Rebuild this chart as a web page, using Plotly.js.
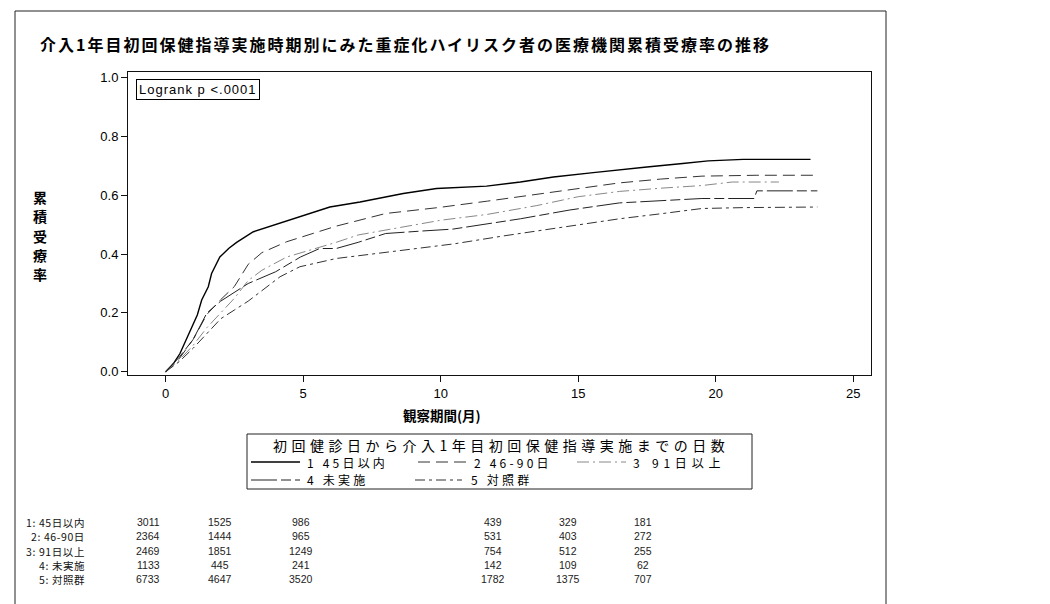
<!DOCTYPE html>
<html>
<head>
<meta charset="utf-8">
<script src="https://cdn.plot.ly/plotly-3.0.1.min.js"></script>
<style>html,body{margin:0;padding:0;background:#fff;}#chart{width:1050px;height:604px;}</style>
</head>
<body>
<div id="chart"></div>
<script>
// ---- data ----
const groupNames = ["1 45日以内", "2 46-90日", "3 91日以上", "4 未実施", "5 対照群"];
const tableLabels = ["1: 45日以内", "2: 46-90日", "3: 91日以上", "4: 未実施", "5: 対照群"];
const yTitleChars = ["累", "積", "受", "療", "率"];

const t1 = [0, 0.3, 0.52, 0.88, 1.15, 1.31, 1.55, 1.67, 1.97, 2.3, 2.58, 3.19, 3.91, 4.88, 5.97, 7.07, 8.64, 9.85, 11.67, 12.9, 14.1, 15.55, 16.5, 17.5, 18.8, 19.73, 21.0, 23.45];
const v1 = [0, 0.03, 0.062, 0.136, 0.193, 0.244, 0.289, 0.334, 0.39, 0.42, 0.44, 0.476, 0.498, 0.527, 0.56, 0.577, 0.606, 0.623, 0.631, 0.645, 0.662, 0.677, 0.685, 0.696, 0.708, 0.717, 0.722, 0.722];

const t2 = [0, 0.5, 1.0, 1.5, 2.0, 2.5, 3.0, 3.5, 4.4, 5.5, 6.2, 8.0, 9.9, 11.7, 13.5, 15.3, 16.5, 18.0, 19.5, 21.5, 23.7];
const v2 = [0, 0.045, 0.11, 0.195, 0.245, 0.29, 0.365, 0.405, 0.442, 0.475, 0.495, 0.538, 0.558, 0.58, 0.603, 0.628, 0.642, 0.655, 0.665, 0.668, 0.668];

const t3 = [0, 0.5, 1, 1.5, 2, 2.5, 3, 3.5, 4.4, 5.25, 6.2, 7, 8.5, 10, 11.7, 13.5, 15, 16.5, 18, 19.5, 20.6, 22.3];
const v3 = [0, 0.04, 0.09, 0.15, 0.2, 0.25, 0.31, 0.345, 0.39, 0.413, 0.44, 0.465, 0.49, 0.515, 0.535, 0.565, 0.595, 0.613, 0.624, 0.633, 0.645, 0.645];

const t4 = [0, 0.5, 1, 1.5, 2, 2.5, 3, 4, 4.9, 5.6, 6.2, 7, 8, 9.25, 10.45, 12.9, 14.7, 16.5, 18, 19.5, 21.4, 21.5, 23.7];
const v4 = [0, 0.05, 0.11, 0.2, 0.24, 0.27, 0.3, 0.34, 0.39, 0.419, 0.419, 0.44, 0.47, 0.478, 0.485, 0.52, 0.55, 0.574, 0.582, 0.589, 0.589, 0.615, 0.615];

const t5 = [0, 0.5, 1, 1.5, 2, 2.5, 3, 4.16, 4.88, 6.2, 7.5, 9.25, 10.5, 12.3, 14.5, 16.5, 18, 19.5, 21, 23.7];
const v5 = [0, 0.035, 0.08, 0.13, 0.18, 0.21, 0.24, 0.323, 0.357, 0.385, 0.40, 0.419, 0.435, 0.462, 0.492, 0.52, 0.537, 0.555, 0.558, 0.56];

const atRisk1 = [3011, 1525, 986, 439, 329, 181];
const atRisk2 = [2364, 1444, 965, 531, 403, 272];
const atRisk3 = [2469, 1851, 1249, 754, 512, 255];
const atRisk4 = [1133, 445, 241, 142, 109, 62];
const atRisk5 = [6733, 4647, 3520, 1782, 1375, 707];

const xTicks = [0, 5, 10, 15, 20, 25];
const yTicks = [0, 0.2, 0.4, 0.6, 0.8, 1.0];

// ---- styles / layout geometry ----
const L = 128, T = 72, W = 743, H = 303;
const fx = px => (px - L) / W;
const fy = py => (T + H - py) / H;
const sp = (txt, ls) => '<span style="letter-spacing:' + ls + 'px">' + txt + '</span>';

const styles = [
  {color: "#000", width: 1.4, dash: "solid"},
  {color: "#333", width: 1.0, dash: "12px,6px"},
  {color: "#888", width: 1.0, dash: "12px,4px,2px,4px"},
  {color: "#222", width: 1.0, dash: "26px,4px,10px,4px"},
  {color: "#333", width: 1.0, dash: "10px,4px,3px,4px"}
];
const ts = [t1, t2, t3, t4, t5];
const vs = [v1, v2, v3, v4, v5];
const atRisk = [atRisk1, atRisk2, atRisk3, atRisk4, atRisk5];

const traces = ts.map((t, i) => ({
  x: t, y: vs[i], type: "scatter", mode: "lines", name: groupNames[i],
  line: {color: styles[i].color, width: styles[i].width, dash: styles[i].dash, shape: "linear"},
  showlegend: false, hoverinfo: "skip"
}));

const jp = "'Noto Sans CJK JP', 'Noto Sans', sans-serif";
const ann = [];
const shapes = [];

// title
ann.push({xref: "paper", yref: "paper", x: fx(38), y: fy(44), xanchor: "left", yanchor: "middle",
  text: "<b>" + sp("介入1年目初回保健指導実施時期別にみた重症化ハイリスク者の医療機関累積受療率の推移", 2) + "</b>",
  showarrow: false, font: {family: jp, size: 16, color: "#000"}});
// y title (vertical stacked characters)
yTitleChars.forEach((ch, k) => {
  ann.push({xref: "paper", yref: "paper", x: fx(40), y: fy(197 + k * 19.3), xanchor: "center", yanchor: "middle",
    text: "<b>" + ch + "</b>", showarrow: false, font: {family: jp, size: 14, color: "#000"}});
});
// x title
ann.push({xref: "paper", yref: "paper", x: fx(442), y: fy(415), xanchor: "center", yanchor: "middle",
  text: "<b>観察期間(月)</b>", showarrow: false, font: {family: jp, size: 13.5, color: "#000"}});
// logrank box
ann.push({xref: "paper", yref: "paper", x: fx(136), y: fy(79), xanchor: "left", yanchor: "top",
  text: sp("Logrank p <.0001", 1), showarrow: false, bordercolor: "#000", borderwidth: 1, borderpad: 2,
  bgcolor: "#fff", font: {family: "'Liberation Sans', Arial, sans-serif", size: 13, color: "#000"}});

// outer frame
shapes.push({type: "rect", xref: "paper", yref: "paper", x0: fx(15), x1: fx(886), y0: fy(640), y1: fy(11),
  line: {color: "#222", width: 1}});

// legend box
shapes.push({type: "rect", xref: "paper", yref: "paper", x0: fx(247), x1: fx(752), y0: fy(489), y1: fy(434),
  line: {color: "#222", width: 1}});
ann.push({xref: "paper", yref: "paper", x: fx(501), y: fy(445), xanchor: "center", yanchor: "middle",
  text: sp("初回健診日から介入1年目初回保健指導実施までの日数", 4.5), showarrow: false, borderpad: 0,
  font: {family: jp, size: 14, color: "#000"}});
const legPos = [
  {x0: 251, x1: 300, tx: 306, y: 462},
  {x0: 418, x1: 466, tx: 473, y: 462},
  {x0: 577, x1: 626, tx: 632, y: 462},
  {x0: 251, x1: 300, tx: 306, y: 480},
  {x0: 415, x1: 462, tx: 470, y: 480}
];
legPos.forEach((p, i) => {
  shapes.push({type: "line", xref: "paper", yref: "paper", x0: fx(p.x0), x1: fx(p.x1), y0: fy(p.y), y1: fy(p.y),
    line: {color: styles[i].color, width: styles[i].width, dash: styles[i].dash}});
  ann.push({xref: "paper", yref: "paper", x: fx(p.tx), y: fy(p.y), xanchor: "left", yanchor: "middle",
    text: sp(groupNames[i], i === 2 ? 4.8 : 3.2), showarrow: false, borderpad: 0,
    font: {family: jp, size: 12, color: "#000"}});
});

// at-risk table
const rowY = [522, 536, 551, 565, 579];
const colX = [148, 220, 301, 493, 568, 643];
tableLabels.forEach((lab, r) => {
  ann.push({xref: "paper", yref: "paper", x: fx(87), y: fy(rowY[r]), xanchor: "right", yanchor: "middle",
    text: sp(lab, 0.6), showarrow: false, font: {family: jp, size: 10.5, color: "#111"}});
  atRisk[r].forEach((n, c) => {
    ann.push({xref: "paper", yref: "paper", x: fx(colX[c]), y: fy(rowY[r]), xanchor: "center", yanchor: "middle",
      text: String(n), showarrow: false,
      font: {family: "'Liberation Sans Narrow', 'Liberation Sans', Arial, sans-serif", size: 10.5, color: "#222"}});
  });
});

const axisCommon = {
  showline: true, mirror: true, linecolor: "#111", linewidth: 1,
  ticks: "outside", ticklen: 6, tickcolor: "#111", tickwidth: 1,
  showgrid: false, zeroline: false,
  tickfont: {family: "'Liberation Sans', Arial, sans-serif", size: 13, color: "#000"}
};

const layout = {
  width: 1050, height: 604,
  margin: {l: L, r: 1050 - L - W, t: T, b: 604 - T - H, pad: 0},
  paper_bgcolor: "#fff", plot_bgcolor: "#fff",
  showlegend: false,
  xaxis: Object.assign({}, axisCommon, {range: [-1.37, 25.65], tickvals: xTicks}),
  yaxis: Object.assign({}, axisCommon, {range: [-0.011, 1.019], tickvals: yTicks, tickformat: ".1f"}),
  annotations: ann,
  shapes: shapes
};

Plotly.newPlot("chart", traces, layout, {displayModeBar: false, staticPlot: true});
</script>
</body>
</html>
